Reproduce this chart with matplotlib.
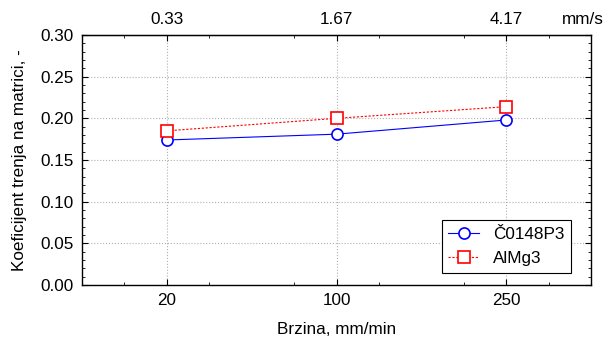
import matplotlib
matplotlib.use("Agg")
import matplotlib.pyplot as plt
from matplotlib.ticker import MultipleLocator, FixedLocator, FormatStrFormatter

plt.rcParams['font.family'] = ['Liberation Sans', 'DejaVu Sans']

categories = ["20", "100", "250"]
top_labels = ["0.33", "1.67", "4.17"]
s1_name = "Č0148P3"
s1_vals = [0.174, 0.181, 0.198]
s2_name = "AlMg3"
s2_vals = [0.185, 0.200, 0.214]

FS = 12.3
fig = plt.figure(figsize=(6.13, 3.40), dpi=100)
ax = fig.add_axes([82/613, 1-285/340, (591-82)/613, (285-35)/340])
x = list(range(len(categories)))

ax.plot(x, s1_vals, color='blue', lw=0.8, marker='o', ms=8, mfc='white',
        mec='blue', mew=1.2, label=s1_name, zorder=3)
ax.plot(x, s2_vals, color='red', lw=0.8, ls=(0, (2, 1.5)), marker='s', ms=8,
        mfc='white', mec='red', mew=1.2, label=s2_name, zorder=3)

ax.set_xlim(-0.5, 2.5)
ax.set_ylim(0, 0.30)
ax.set_xticks(x)
ax.set_xticklabels(categories)
ax.xaxis.set_minor_locator(FixedLocator([-0.25, 0.25, 0.75, 1.25, 1.75, 2.25]))
ax.yaxis.set_major_locator(MultipleLocator(0.05))
ax.yaxis.set_minor_locator(MultipleLocator(0.01))
ax.yaxis.set_major_formatter(FormatStrFormatter('%.2f'))
ax.grid(True, which='major', color='#b0b0b0', ls=':', lw=0.8)
ax.tick_params(which='both', direction='in', top=True, right=True, labelsize=FS)
ax.tick_params(which='major', length=4, pad=6)
ax.tick_params(which='minor', length=2.5)
for sp in ax.spines.values():
    sp.set_linewidth(1.0)

ax2 = ax.secondary_xaxis('top')
ax2.set_xticks(x)
ax2.set_xticklabels(top_labels)
ax2.tick_params(direction='in', length=0, labelsize=FS, pad=6)
fig.text(604/613, 1-20/340, "mm/s", ha='right', va='center', fontsize=FS)

ax.set_xlabel("Brzina, mm/min", fontsize=FS, labelpad=10)
ax.set_ylabel("Koeficijent trenja na matrici, -", fontsize=FS, labelpad=10)

leg = ax.legend(loc='lower right', bbox_to_anchor=(571/613, 1-273/340),
                bbox_transform=fig.transFigure, fancybox=False, framealpha=1,
                edgecolor='black', fontsize=FS, handlelength=1.8,
                handletextpad=0.8, borderpad=0.4, labelspacing=0.55,
                borderaxespad=0)
leg.get_frame().set_linewidth(0.8)

fig.savefig("out.png", dpi=100)
